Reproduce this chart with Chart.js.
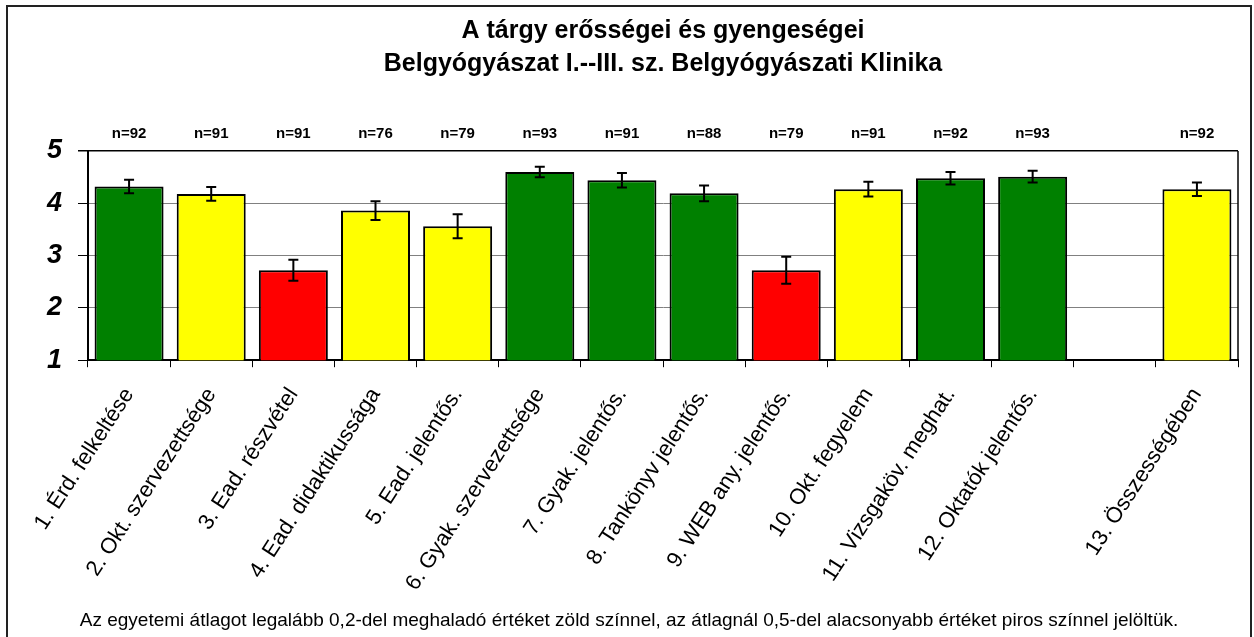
<!DOCTYPE html>
<html>
<head>
<meta charset="utf-8">
<script src="https://cdn.jsdelivr.net/npm/chart.js@4"></script>
<style>
  html, body { margin: 0; padding: 0; background: #fff; }
  #wrap { width: 1254px; height: 637px; }
</style>
</head>
<body>
<div id="wrap"><canvas id="chart" width="1254" height="637"></canvas></div>
<script>
// kategóriák (a 12. és 13. között üres hely)
const categories = [
    "1. Érd. felkeltése", "2. Okt. szervezettsége", "3. Ead. részvétel",
    "4. Ead. didaktikussága", "5. Ead. jelentős.", "6. Gyak. szervezettsége",
    "7. Gyak. jelentős.", "8. Tankönyv jelentős.", "9. WEB any. jelentős.",
    "10. Okt. fegyelem", "11. Vizsgaköv. meghat.", "12. Oktatók jelentős.",
    "", "13. Összességében"
];
const means = [4.32, 4.18, 2.72, 3.86, 3.56, 4.60, 4.44, 4.19, 2.72, 4.27, 4.48, 4.51, null, 4.27];
const errors = [0.13, 0.13, 0.20, 0.18, 0.23, 0.10, 0.14, 0.15, 0.26, 0.14, 0.12, 0.11, null, 0.13];
const counts = [92, 91, 91, 76, 79, 93, 91, 88, 79, 91, 92, 93, null, 92];
const ratings = ["g", "y", "r", "y", "y", "g", "g", "g", "r", "y", "g", "g", null, "y"];
const yTicks = [1, 2, 3, 4, 5];

const palette = { g: "#008000", y: "#FFFF00", r: "#FF0000" };
const FONT = "Arial, 'Liberation Sans', sans-serif";

// fehér háttér + keret
const framePlugin = {
    id: "frame",
    beforeDraw(chart) {
        const ctx = chart.ctx;
        ctx.save();
        ctx.fillStyle = "#fff";
        ctx.fillRect(0, 0, chart.width, chart.height);
        ctx.strokeStyle = "#222";
        ctx.lineWidth = 2;
        ctx.strokeRect(7, 6, 1244, 640);
        ctx.restore();
    },
    afterDraw(chart) {
        const a = chart.chartArea;
        const ctx = chart.ctx;
        ctx.save();
        ctx.strokeStyle = "#000";
        ctx.lineWidth = 1.5;
        ctx.beginPath();
        ctx.moveTo(a.right, a.top);
        ctx.lineTo(a.right, a.bottom);
        ctx.stroke();
        ctx.restore();
    }
};

// hibasávok és n= feliratok
const errorBarPlugin = {
    id: "errorBars",
    afterDatasetsDraw(chart) {
        const ctx = chart.ctx;
        const x = chart.scales.x, y = chart.scales.y;
        ctx.save();
        ctx.strokeStyle = "#000";
        ctx.lineWidth = 2;
        means.forEach((m, i) => {
            if (m === null) return;
            const px = x.getPixelForValue(i);
            const top = y.getPixelForValue(m + errors[i]);
            const bot = y.getPixelForValue(m - errors[i]);
            ctx.beginPath();
            ctx.moveTo(px, top); ctx.lineTo(px, bot);
            ctx.moveTo(px - 5, top); ctx.lineTo(px + 5, top);
            ctx.moveTo(px - 5, bot); ctx.lineTo(px + 5, bot);
            ctx.stroke();
        });
        ctx.fillStyle = "#000";
        ctx.font = "bold 15px " + FONT;
        ctx.textAlign = "center";
        ctx.textBaseline = "middle";
        counts.forEach((n, i) => {
            if (n === null) return;
            ctx.fillText("n=" + n, x.getPixelForValue(i), 134);
        });
        ctx.restore();
    }
};

const ctx = document.getElementById("chart").getContext("2d");
new Chart(ctx, {
    type: "bar",
    data: {
        labels: categories,
        datasets: [{
            data: means,
            backgroundColor: ratings.map(r => r ? palette[r] : "transparent"),
            borderColor: "#000",
            borderWidth: 2,
            barPercentage: 0.84,
            categoryPercentage: 1
        }]
    },
    options: {
        responsive: false,
        animation: false,
        layout: { padding: { left: 20, right: 16, top: 0, bottom: 0 } },
        plugins: {
            legend: { display: false },
            tooltip: { enabled: false },
            title: {
                display: true,
                fullSize: false,
                text: ["A tárgy erősségei és gyengeségei", "Belgyógyászat I.--III. sz. Belgyógyászati Klinika"],
                color: "#000",
                font: { family: FONT, size: 25, weight: "bold", lineHeight: 1.3 },
                padding: { top: 15, bottom: 71 }
            },
            subtitle: {
                display: true,
                position: "bottom",
                text: "Az egyetemi átlagot legalább 0,2-del meghaladó értéket zöld színnel, az átlagnál 0,5-del alacsonyabb értéket piros színnel jelöltük.",
                color: "#000",
                font: { family: FONT, size: 19, lineHeight: 1.2 },
                padding: { top: 9, bottom: 5 }
            }
        },
        scales: {
            x: {
                offset: true,
                grid: {
                    offset: true,
                    drawOnChartArea: false,
                    drawTicks: true,
                    tickLength: 7,
                    tickColor: "#000",
                    tickWidth: 1
                },
                border: { color: "#000", width: 2 },
                ticks: {
                    autoSkip: false,
                    maxRotation: 57,
                    minRotation: 57,
                    padding: 16,
                    color: "#000",
                    font: { family: FONT, size: 22 }
                },
                afterFit(scale) { scale.height = 240; }
            },
            y: {
                min: 1,
                max: 5,
                afterBuildTicks(scale) { scale.ticks = yTicks.map(v => ({ value: v })); },
                grid: {
                    color: c => (c.tick && (c.tick.value === 5)) ? "#000" : "#808080",
                    lineWidth: c => (c.tick && (c.tick.value === 5)) ? 1.5 : 1,
                    tickLength: 10,
                    tickColor: "#000"
                },
                border: { color: "#000", width: 2 },
                ticks: {
                    color: "#000",
                    padding: 16,
                    font: { family: FONT, size: 27, weight: "bold", style: "italic" }
                },
                afterFit(scale) { scale.width = 68; }
            }
        }
    },
    plugins: [framePlugin, errorBarPlugin]
});
</script>
</body>
</html>
